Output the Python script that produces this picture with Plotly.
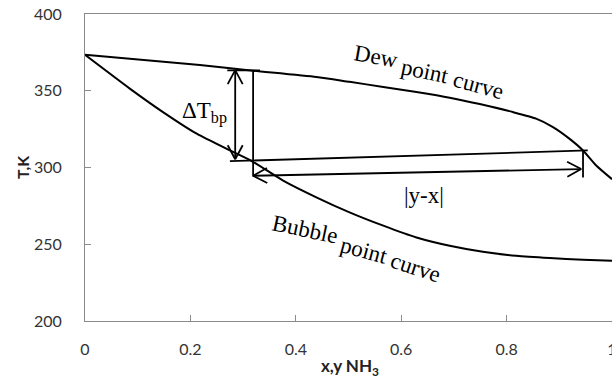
import plotly.graph_objects as go

# ---- data ----
bubble_x = [0, 0.085, 0.148, 0.212, 0.275, 0.318, 0.376, 0.439, 0.502, 0.566,
            0.629, 0.692, 0.755, 0.818, 0.882, 0.945, 1.0]
bubble_T = [373.4, 351.4, 336.1, 322.0, 311.1, 303.9, 291.5, 280.6, 270.8, 262.1,
            254.4, 249.0, 245.1, 242.5, 241.0, 239.9, 239.2]

dew_x = [0, 0.218, 0.319, 0.439, 0.502, 0.566, 0.629, 0.692, 0.749, 0.812,
         0.856, 0.888, 0.919, 0.945, 0.970, 1.0]
dew_T = [373.4, 366.7, 363.1, 359.0, 355.8, 352.5, 349.2, 345.5, 341.3, 336.1,
         331.8, 326.3, 318.8, 311.1, 301.3, 292.4]

x_ticks = [0, 0.2, 0.4, 0.6, 0.8, 1]
x_tick_text = ["0", "0.2", "0.4", "0.6", "0.8", "1"]
y_ticks = [200, 250, 300, 350, 400]

# construction lines (x, T endpoints)
tie_line = [(0.275, 304.1), (0.954, 311.1)]
top_tick = [(0.270, 363.3), (0.332, 363.3)]
dT_arrow = [(0.285, 363.4), (0.285, 305.4)]          # double arrow (top tip, bottom tip)
left_vert = [(0.319, 362.9), (0.319, 294.1)]
right_vert = [(0.945, 311.1), (0.945, 293.5)]
yx_arrow = [(0.319, 294.6), (0.9416, 299.0)]        # double arrow (left tip, right tip)

# labels: (text, x, T, angle)
curve_labels = [
    ("Dew", 0.553, 372.1, 10), ("point", 0.646, 362.3, 12), ("curve", 0.747, 353.6, 15),
    ("Bubble", 0.418, 259.9, 12), ("point", 0.529, 245.8, 15), ("curve", 0.627, 234.8, 18),
]
dT_label = ("ΔT<sub>bp</sub>", 0.227, 336.0)
yx_label = ("|y-x|", 0.643, 281.7)

# ---- figure ----
W, H = 612, 379
ML, MR, MT, MB = 85, 0, 14, 58
PW, PH = W - ML - MR, H - MT - MB
XR, YR = (0, 1), (200, 400)
px_x = PW / (XR[1] - XR[0])
px_y = PH / (YR[1] - YR[0])

fig = go.Figure()
for xs, ts in [(dew_x, dew_T), (bubble_x, bubble_T)]:
    fig.add_trace(go.Scatter(x=xs, y=ts, mode="lines",
                             line=dict(color="black", width=2, shape="spline", smoothing=0.6),
                             showlegend=False, hoverinfo="skip"))

shapes = []
LW = 1.8


def seg(p, q):
    shapes.append(dict(type="line", x0=p[0], y0=p[1], x1=q[0], y1=q[1],
                       xref="x", yref="y", line=dict(color="black", width=LW)))


def head(tip, tail, back=14, half=7.5):
    dx = (tail[0] - tip[0]) * px_x
    dy = -(tail[1] - tip[1]) * px_y
    n = (dx * dx + dy * dy) ** 0.5
    ux, uy = dx / n, dy / n
    for s in (1, -1):
        wx = tip[0] + (ux * back - s * uy * half) / px_x
        wy = tip[1] - (uy * back + s * ux * half) / px_y
        seg(tip, (wx, wy))


for line in (tie_line, top_tick, left_vert, right_vert):
    seg(*line)
for arr in (dT_arrow, yx_arrow):
    seg(*arr)
    head(arr[0], arr[1])
    head(arr[1], arr[0])

serif = dict(family="Liberation Serif", size=23, color="black")
annots = []
for txt, x, t, ang in curve_labels:
    annots.append(dict(text=txt, x=x, y=t, xref="x", yref="y", showarrow=False,
                       xanchor="center", yanchor="middle", textangle=ang, font=serif))
for txt, x, t in (dT_label, yx_label):
    annots.append(dict(text=txt, x=x, y=t, xref="x", yref="y", showarrow=False,
                       xanchor="center", yanchor="middle", font=serif))


def px_to_paper(px, py):
    return (px - ML) / PW, (H - py - MB) / PH


tx, ty = px_to_paper(350, 366.5)
annots.append(dict(text="<b>x,y NH<sub>3</sub></b>", x=tx, y=ty, xref="paper", yref="paper",
                   xanchor="center", yanchor="middle", showarrow=False,
                   font=dict(family="Lato", size=17, color="#222")))
tx, ty = px_to_paper(22, 167)
annots.append(dict(text="<b>T,K</b>", x=tx, y=ty, xref="paper", yref="paper",
                   xanchor="center", yanchor="middle", showarrow=False, textangle=-90,
                   font=dict(family="Lato", size=16, color="#222")))

axis_col = "#8a8a8a"
tick_font = dict(family="Lato", size=16, color="#333")
fig.update_layout(
    width=W, height=H, margin=dict(l=ML, r=MR, t=MT, b=MB),
    paper_bgcolor="white", plot_bgcolor="white",
    shapes=shapes, annotations=annots,
    xaxis=dict(range=list(XR), tickvals=x_ticks, ticktext=x_tick_text, showgrid=False,
               zeroline=False, showline=True, linecolor=axis_col, linewidth=1, mirror=True,
               ticks="inside", ticklen=6, tickcolor=axis_col, tickfont=tick_font,
               ticklabelstandoff=14, ticklabeloverflow="allow", automargin=False),
    yaxis=dict(range=list(YR), tickvals=y_ticks, showgrid=False, zeroline=False,
               showline=True, linecolor=axis_col, linewidth=1,
               ticks="inside", ticklen=6, tickcolor=axis_col, tickfont=tick_font,
               ticklabelstandoff=19, automargin=False),
)
fig.write_html("out.html", config={"displayModeBar": False},
               post_script="document.body.style.margin='0';")
